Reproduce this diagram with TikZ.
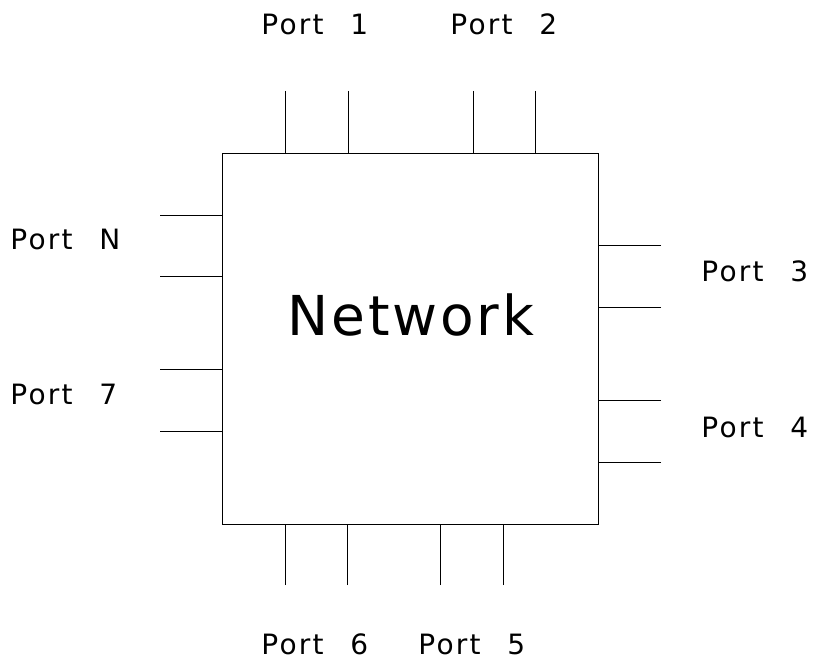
\documentclass[tikz,border=0pt]{standalone}
\usepackage{fontspec}
\setmainfont{DejaVu Sans}[LetterSpace=8,WordSpace=2.4]
\newfontfamily\netfont{DejaVu Sans}[LetterSpace=5]
\begin{document}
\begin{tikzpicture}[x=1pt,y=-1pt,line width=0.8pt,
  lbl/.style={anchor=base west,inner sep=0pt,font=\fontsize{28}{30}\selectfont},
  portline/.style={draw,line width=0.8pt}]
\useasboundingbox (0,0) rectangle (814,660);
\node[draw,line width=0.8pt,minimum width=376pt,minimum height=371pt,inner sep=0pt] (net) at (410,338.5) {};
\node[anchor=base,inner sep=0pt,font=\netfont\fontsize{55}{60}\selectfont] (nettext) at (411,335) {Network};
% top
\coordinate (t1) at (285,91); \coordinate (t2) at (348,91);
\coordinate (t3) at (473,91); \coordinate (t4) at (535,91);
\foreach \c in {t1,t2,t3,t4} \draw[portline] (\c) -- (\c |- net.north);
% bottom
\coordinate (b1) at (285,585); \coordinate (b2) at (347,585);
\coordinate (b3) at (440,585); \coordinate (b4) at (503,585);
\foreach \c in {b1,b2,b3,b4} \draw[portline] (\c) -- (\c |- net.south);
% left
\coordinate (l1) at (160,215); \coordinate (l2) at (160,276);
\coordinate (l3) at (160,369); \coordinate (l4) at (160,431);
\foreach \c in {l1,l2,l3,l4} \draw[portline] (\c) -- (\c -| net.west);
% right
\coordinate (r1) at (661,245); \coordinate (r2) at (661,307);
\coordinate (r3) at (661,400); \coordinate (r4) at (661,462);
\foreach \c in {r1,r2,r3,r4} \draw[portline] (\c) -- (\c -| net.east);
% labels
\node[lbl] (p1) at (261,35) {Port 1};
\node[lbl] (p2) at (450,35) {Port 2};
\node[lbl] (pN) at (10,250) {Port N};
\node[lbl] (p7) at (10,404) {Port 7};
\node[lbl] (p3) at (701,282) {Port 3};
\node[lbl] (p4) at (701,437) {Port 4};
\node[lbl] (p6) at (261,654) {Port 6};
\node[lbl] (p5) at (418,654) {Port 5};
\end{tikzpicture}
\end{document}
